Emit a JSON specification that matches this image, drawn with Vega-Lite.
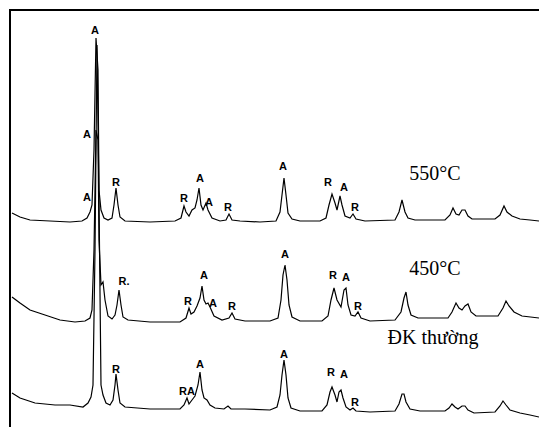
{
  "$schema": "https://vega.github.io/schema/vega-lite/v6.json",
  "width": 540,
  "height": 420,
  "autosize": {"type": "none"},
  "padding": {"left": 10, "top": 10, "right": 0, "bottom": 0},
  "background": "white",
  "config": {"view": {"stroke": "black", "strokeWidth": 2}},
  "datasets": {
    "curves": [
      {"s": "550", "x": 12, "y": 213}, {"s": "550", "x": 20, "y": 217}, {"s": "550", "x": 30, "y": 220}, {"s": "550", "x": 50, "y": 221}, {"s": "550", "x": 70, "y": 222}, {"s": "550", "x": 82, "y": 221}, {"s": "550", "x": 87, "y": 218}, {"s": "550", "x": 90, "y": 212}, {"s": "550", "x": 92, "y": 205}, {"s": "550", "x": 94, "y": 150}, {"s": "550", "x": 96, "y": 38}, {"s": "550", "x": 98, "y": 70}, {"s": "550", "x": 99, "y": 190}, {"s": "550", "x": 101, "y": 210}, {"s": "550", "x": 104, "y": 218}, {"s": "550", "x": 108, "y": 220}, {"s": "550", "x": 112, "y": 218}, {"s": "550", "x": 114, "y": 205}, {"s": "550", "x": 116, "y": 188}, {"s": "550", "x": 118, "y": 205}, {"s": "550", "x": 120, "y": 217}, {"s": "550", "x": 125, "y": 221}, {"s": "550", "x": 150, "y": 222}, {"s": "550", "x": 175, "y": 221}, {"s": "550", "x": 181, "y": 218}, {"s": "550", "x": 184, "y": 206}, {"s": "550", "x": 186, "y": 212}, {"s": "550", "x": 189, "y": 216}, {"s": "550", "x": 192, "y": 210}, {"s": "550", "x": 195, "y": 208}, {"s": "550", "x": 197, "y": 200}, {"s": "550", "x": 199, "y": 188}, {"s": "550", "x": 201, "y": 205}, {"s": "550", "x": 203, "y": 210}, {"s": "550", "x": 206, "y": 203}, {"s": "550", "x": 208, "y": 210}, {"s": "550", "x": 212, "y": 218}, {"s": "550", "x": 220, "y": 221}, {"s": "550", "x": 226, "y": 220}, {"s": "550", "x": 229, "y": 214}, {"s": "550", "x": 232, "y": 220}, {"s": "550", "x": 240, "y": 221}, {"s": "550", "x": 260, "y": 222}, {"s": "550", "x": 276, "y": 221}, {"s": "550", "x": 280, "y": 212}, {"s": "550", "x": 282, "y": 195}, {"s": "550", "x": 284, "y": 178}, {"s": "550", "x": 286, "y": 195}, {"s": "550", "x": 288, "y": 213}, {"s": "550", "x": 292, "y": 219}, {"s": "550", "x": 300, "y": 221}, {"s": "550", "x": 320, "y": 221}, {"s": "550", "x": 326, "y": 218}, {"s": "550", "x": 329, "y": 205}, {"s": "550", "x": 332, "y": 194}, {"s": "550", "x": 335, "y": 203}, {"s": "550", "x": 337, "y": 210}, {"s": "550", "x": 340, "y": 196}, {"s": "550", "x": 342, "y": 205}, {"s": "550", "x": 345, "y": 216}, {"s": "550", "x": 350, "y": 218}, {"s": "550", "x": 353, "y": 214}, {"s": "550", "x": 356, "y": 219}, {"s": "550", "x": 365, "y": 221}, {"s": "550", "x": 395, "y": 220}, {"s": "550", "x": 399, "y": 212}, {"s": "550", "x": 402, "y": 200}, {"s": "550", "x": 405, "y": 212}, {"s": "550", "x": 408, "y": 218}, {"s": "550", "x": 415, "y": 220}, {"s": "550", "x": 445, "y": 220}, {"s": "550", "x": 450, "y": 215}, {"s": "550", "x": 453, "y": 208}, {"s": "550", "x": 456, "y": 214}, {"s": "550", "x": 459, "y": 215}, {"s": "550", "x": 462, "y": 210}, {"s": "550", "x": 465, "y": 210}, {"s": "550", "x": 468, "y": 216}, {"s": "550", "x": 472, "y": 219}, {"s": "550", "x": 495, "y": 219}, {"s": "550", "x": 500, "y": 215}, {"s": "550", "x": 504, "y": 206}, {"s": "550", "x": 507, "y": 212}, {"s": "550", "x": 512, "y": 216}, {"s": "550", "x": 520, "y": 219}, {"s": "550", "x": 530, "y": 220}, {"s": "550", "x": 539, "y": 221},
      {"s": "450", "x": 12, "y": 297}, {"s": "450", "x": 20, "y": 303}, {"s": "450", "x": 30, "y": 310}, {"s": "450", "x": 45, "y": 315}, {"s": "450", "x": 60, "y": 320}, {"s": "450", "x": 75, "y": 322}, {"s": "450", "x": 85, "y": 321}, {"s": "450", "x": 90, "y": 318}, {"s": "450", "x": 92, "y": 310}, {"s": "450", "x": 94, "y": 250}, {"s": "450", "x": 96, "y": 130}, {"s": "450", "x": 98, "y": 140}, {"s": "450", "x": 99, "y": 240}, {"s": "450", "x": 101, "y": 285}, {"s": "450", "x": 103, "y": 282}, {"s": "450", "x": 105, "y": 300}, {"s": "450", "x": 108, "y": 316}, {"s": "450", "x": 112, "y": 319}, {"s": "450", "x": 115, "y": 315}, {"s": "450", "x": 117, "y": 305}, {"s": "450", "x": 119, "y": 290}, {"s": "450", "x": 121, "y": 305}, {"s": "450", "x": 123, "y": 317}, {"s": "450", "x": 128, "y": 320}, {"s": "450", "x": 150, "y": 322}, {"s": "450", "x": 180, "y": 322}, {"s": "450", "x": 186, "y": 318}, {"s": "450", "x": 189, "y": 308}, {"s": "450", "x": 191, "y": 314}, {"s": "450", "x": 194, "y": 312}, {"s": "450", "x": 197, "y": 306}, {"s": "450", "x": 200, "y": 298}, {"s": "450", "x": 202, "y": 286}, {"s": "450", "x": 204, "y": 300}, {"s": "450", "x": 206, "y": 304}, {"s": "450", "x": 208, "y": 303}, {"s": "450", "x": 210, "y": 307}, {"s": "450", "x": 214, "y": 316}, {"s": "450", "x": 222, "y": 320}, {"s": "450", "x": 229, "y": 318}, {"s": "450", "x": 232, "y": 313}, {"s": "450", "x": 235, "y": 319}, {"s": "450", "x": 245, "y": 321}, {"s": "450", "x": 270, "y": 321}, {"s": "450", "x": 278, "y": 318}, {"s": "450", "x": 281, "y": 300}, {"s": "450", "x": 283, "y": 275}, {"s": "450", "x": 285, "y": 265}, {"s": "450", "x": 287, "y": 280}, {"s": "450", "x": 289, "y": 305}, {"s": "450", "x": 292, "y": 317}, {"s": "450", "x": 300, "y": 321}, {"s": "450", "x": 322, "y": 321}, {"s": "450", "x": 328, "y": 316}, {"s": "450", "x": 331, "y": 300}, {"s": "450", "x": 334, "y": 288}, {"s": "450", "x": 337, "y": 300}, {"s": "450", "x": 341, "y": 307}, {"s": "450", "x": 344, "y": 290}, {"s": "450", "x": 346, "y": 288}, {"s": "450", "x": 348, "y": 305}, {"s": "450", "x": 351, "y": 315}, {"s": "450", "x": 355, "y": 316}, {"s": "450", "x": 358, "y": 312}, {"s": "450", "x": 361, "y": 318}, {"s": "450", "x": 370, "y": 321}, {"s": "450", "x": 395, "y": 320}, {"s": "450", "x": 401, "y": 312}, {"s": "450", "x": 404, "y": 298}, {"s": "450", "x": 406, "y": 292}, {"s": "450", "x": 408, "y": 305}, {"s": "450", "x": 411, "y": 315}, {"s": "450", "x": 418, "y": 318}, {"s": "450", "x": 448, "y": 318}, {"s": "450", "x": 452, "y": 312}, {"s": "450", "x": 456, "y": 303}, {"s": "450", "x": 459, "y": 308}, {"s": "450", "x": 462, "y": 310}, {"s": "450", "x": 465, "y": 306}, {"s": "450", "x": 468, "y": 304}, {"s": "450", "x": 471, "y": 312}, {"s": "450", "x": 476, "y": 316}, {"s": "450", "x": 498, "y": 316}, {"s": "450", "x": 503, "y": 308}, {"s": "450", "x": 506, "y": 301}, {"s": "450", "x": 509, "y": 306}, {"s": "450", "x": 514, "y": 312}, {"s": "450", "x": 522, "y": 316}, {"s": "450", "x": 539, "y": 318},
      {"s": "DK", "x": 12, "y": 393}, {"s": "DK", "x": 20, "y": 398}, {"s": "DK", "x": 35, "y": 403}, {"s": "DK", "x": 55, "y": 405}, {"s": "DK", "x": 70, "y": 405}, {"s": "DK", "x": 83, "y": 407}, {"s": "DK", "x": 88, "y": 403}, {"s": "DK", "x": 91, "y": 397}, {"s": "DK", "x": 93, "y": 385}, {"s": "DK", "x": 95, "y": 250}, {"s": "DK", "x": 97, "y": 45}, {"s": "DK", "x": 99, "y": 200}, {"s": "DK", "x": 101, "y": 385}, {"s": "DK", "x": 103, "y": 395}, {"s": "DK", "x": 106, "y": 403}, {"s": "DK", "x": 110, "y": 405}, {"s": "DK", "x": 113, "y": 400}, {"s": "DK", "x": 115, "y": 385}, {"s": "DK", "x": 116, "y": 374}, {"s": "DK", "x": 118, "y": 390}, {"s": "DK", "x": 120, "y": 403}, {"s": "DK", "x": 125, "y": 407}, {"s": "DK", "x": 150, "y": 409}, {"s": "DK", "x": 180, "y": 409}, {"s": "DK", "x": 184, "y": 405}, {"s": "DK", "x": 187, "y": 398}, {"s": "DK", "x": 189, "y": 404}, {"s": "DK", "x": 192, "y": 400}, {"s": "DK", "x": 195, "y": 396}, {"s": "DK", "x": 198, "y": 385}, {"s": "DK", "x": 200, "y": 372}, {"s": "DK", "x": 202, "y": 390}, {"s": "DK", "x": 204, "y": 398}, {"s": "DK", "x": 207, "y": 400}, {"s": "DK", "x": 210, "y": 405}, {"s": "DK", "x": 215, "y": 408}, {"s": "DK", "x": 224, "y": 409}, {"s": "DK", "x": 228, "y": 406}, {"s": "DK", "x": 231, "y": 409}, {"s": "DK", "x": 245, "y": 409}, {"s": "DK", "x": 270, "y": 410}, {"s": "DK", "x": 277, "y": 407}, {"s": "DK", "x": 280, "y": 395}, {"s": "DK", "x": 282, "y": 375}, {"s": "DK", "x": 284, "y": 360}, {"s": "DK", "x": 286, "y": 375}, {"s": "DK", "x": 288, "y": 398}, {"s": "DK", "x": 291, "y": 408}, {"s": "DK", "x": 300, "y": 411}, {"s": "DK", "x": 322, "y": 411}, {"s": "DK", "x": 327, "y": 405}, {"s": "DK", "x": 330, "y": 392}, {"s": "DK", "x": 332, "y": 387}, {"s": "DK", "x": 335, "y": 395}, {"s": "DK", "x": 337, "y": 402}, {"s": "DK", "x": 339, "y": 392}, {"s": "DK", "x": 341, "y": 390}, {"s": "DK", "x": 343, "y": 398}, {"s": "DK", "x": 346, "y": 407}, {"s": "DK", "x": 350, "y": 410}, {"s": "DK", "x": 353, "y": 408}, {"s": "DK", "x": 356, "y": 411}, {"s": "DK", "x": 370, "y": 412}, {"s": "DK", "x": 395, "y": 411}, {"s": "DK", "x": 399, "y": 404}, {"s": "DK", "x": 402, "y": 394}, {"s": "DK", "x": 404, "y": 394}, {"s": "DK", "x": 406, "y": 402}, {"s": "DK", "x": 410, "y": 409}, {"s": "DK", "x": 420, "y": 411}, {"s": "DK", "x": 445, "y": 411}, {"s": "DK", "x": 449, "y": 408}, {"s": "DK", "x": 452, "y": 404}, {"s": "DK", "x": 455, "y": 407}, {"s": "DK", "x": 458, "y": 409}, {"s": "DK", "x": 462, "y": 406}, {"s": "DK", "x": 465, "y": 406}, {"s": "DK", "x": 468, "y": 410}, {"s": "DK", "x": 474, "y": 413}, {"s": "DK", "x": 495, "y": 412}, {"s": "DK", "x": 500, "y": 406}, {"s": "DK", "x": 503, "y": 401}, {"s": "DK", "x": 506, "y": 405}, {"s": "DK", "x": 510, "y": 410}, {"s": "DK", "x": 520, "y": 413}, {"s": "DK", "x": 530, "y": 415}, {"s": "DK", "x": 539, "y": 417}
    ],
    "peaks": [
      {"t": "A", "x": 95, "y": 31}, {"t": "A", "x": 87, "y": 135}, {"t": "A", "x": 87, "y": 198}, {"t": "R", "x": 116, "y": 183},
      {"t": "R", "x": 184, "y": 199}, {"t": "A", "x": 200, "y": 179}, {"t": "A", "x": 209, "y": 203}, {"t": "R", "x": 228, "y": 208},
      {"t": "A", "x": 283, "y": 167}, {"t": "R", "x": 328, "y": 183}, {"t": "A", "x": 344, "y": 188}, {"t": "R", "x": 355, "y": 208},
      {"t": "R.", "x": 124, "y": 282}, {"t": "A", "x": 204, "y": 276}, {"t": "R", "x": 188, "y": 302}, {"t": "A", "x": 213, "y": 304}, {"t": "R", "x": 232, "y": 307},
      {"t": "A", "x": 285, "y": 255}, {"t": "R", "x": 333, "y": 276}, {"t": "A", "x": 346, "y": 278}, {"t": "R", "x": 358, "y": 307},
      {"t": "R", "x": 116, "y": 370}, {"t": "RA", "x": 187, "y": 392}, {"t": "A", "x": 200, "y": 365},
      {"t": "A", "x": 284, "y": 355}, {"t": "R", "x": 331, "y": 373}, {"t": "A", "x": 344, "y": 375}, {"t": "R", "x": 355, "y": 403}
    ],
    "names": [
      {"t": "550°C", "x": 435, "y": 174},
      {"t": "450°C", "x": 435, "y": 269},
      {"t": "ĐK thường", "x": 433, "y": 338}
    ]
  },
  "layer": [
    {
      "data": {"name": "curves"},
      "mark": {"type": "line", "strokeWidth": 1.2, "clip": true},
      "encoding": {
        "x": {"field": "x", "type": "quantitative", "scale": {"domain": [10, 550], "zero": false, "nice": false}, "axis": null},
        "y": {"field": "y", "type": "quantitative", "scale": {"domain": [10, 430], "zero": false, "nice": false, "reverse": true}, "axis": null},
        "detail": {"field": "s"},
        "color": {"value": "black"},
        "order": {"field": "x", "type": "quantitative"}
      }
    },
    {
      "data": {"name": "peaks"},
      "mark": {"type": "text", "font": "Liberation Sans", "fontSize": 11, "fontWeight": "bold", "align": "center", "baseline": "middle", "color": "black"},
      "encoding": {
        "x": {"field": "x", "type": "quantitative"},
        "y": {"field": "y", "type": "quantitative"},
        "text": {"field": "t"}
      }
    },
    {
      "data": {"name": "names"},
      "mark": {"type": "text", "font": "Liberation Serif", "fontSize": 20, "align": "center", "baseline": "middle", "color": "black"},
      "encoding": {
        "x": {"field": "x", "type": "quantitative"},
        "y": {"field": "y", "type": "quantitative"},
        "text": {"field": "t"}
      }
    }
  ]
}
